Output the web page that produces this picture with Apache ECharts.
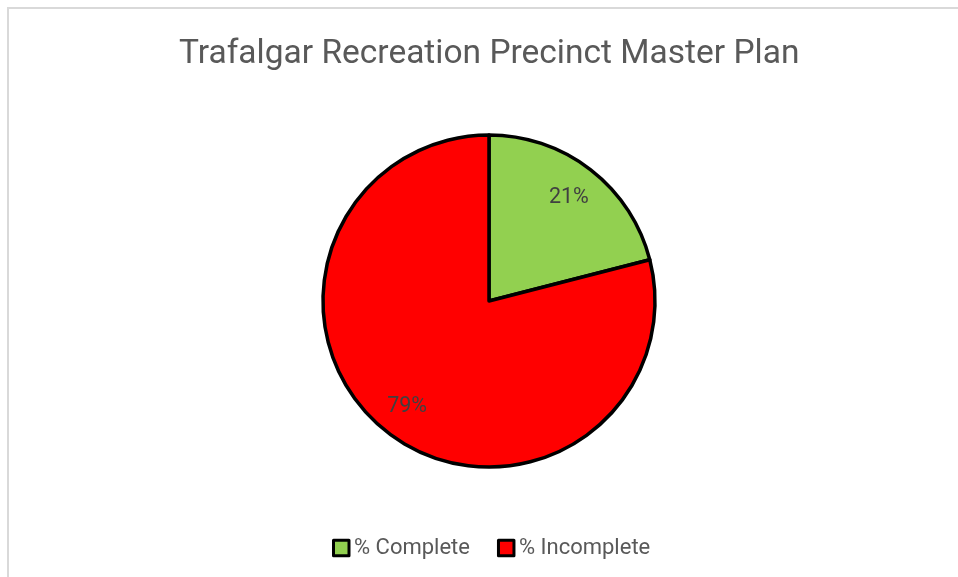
<!DOCTYPE html>
<html>
<head>
<meta charset="utf-8">
<style>
  html, body { margin: 0; padding: 0; background: #fff; }
  #main { width: 958px; height: 577px; }
</style>
<script src="https://cdn.jsdelivr.net/npm/echarts@6/dist/echarts.min.js"></script>
</head>
<body>
<div id="main"></div>
<script>
  // chart data
  var titleText = 'Trafalgar Recreation Precinct Master Plan'
  var categories = ['% Complete', '% Incomplete']
  var values = [21, 79]
  var colors = ['#92D050', '#FF0000']

  var pieData = categories.map(function (name, i) {
    return { name: name, value: values[i], itemStyle: { color: colors[i] } }
  })

  var font = 'Roboto'
  var chart = echarts.init(document.getElementById('main'))
  chart.setOption({
    animation: false,
    graphic: [{
      type: 'rect',
      shape: { x: 8, y: 8, width: 1000, height: 700 },
      style: { fill: 'none', stroke: '#d9d9d9', lineWidth: 2 },
      silent: true
    }],
    title: {
      text: titleText,
      left: 174,
      top: 33,
      textStyle: { color: '#595959', fontFamily: font, fontSize: 33.5, fontWeight: 'normal' }
    },
    legend: {
      left: 327,
      top: 532,
      itemWidth: 15.5,
      itemHeight: 15.5,
      itemGap: 27,
      icon: 'rect',
      itemStyle: { borderColor: '#000', borderWidth: 3 },
      textStyle: { color: '#595959', fontFamily: font, fontSize: 22 },
      data: categories
    },
    series: [
      {
        type: 'pie',
        center: [489, 301],
        radius: 166,
        startAngle: 90,
        clockwise: true,
        silent: true,
        itemStyle: { borderColor: '#000', borderWidth: 3.5 },
        label: { show: false },
        labelLine: { show: false },
        data: pieData
      },
      {
        // transparent copy only used to place the percent labels
        type: 'pie',
        center: [488, 302],
        radius: [0, 258],
        startAngle: 90,
        clockwise: true,
        silent: true,
        legendHoverLink: false,
        percentPrecision: 0,
        itemStyle: { color: 'rgba(0,0,0,0)', borderWidth: 0 },
        label: {
          show: true,
          position: 'inside',
          formatter: '{d}%',
          color: '#404040',
          fontFamily: font,
          fontSize: 21.5
        },
        labelLine: { show: false },
        data: categories.map(function (name, i) { return { name: name, value: values[i] } })
      }
    ]
  })
</script>
</body>
</html>
